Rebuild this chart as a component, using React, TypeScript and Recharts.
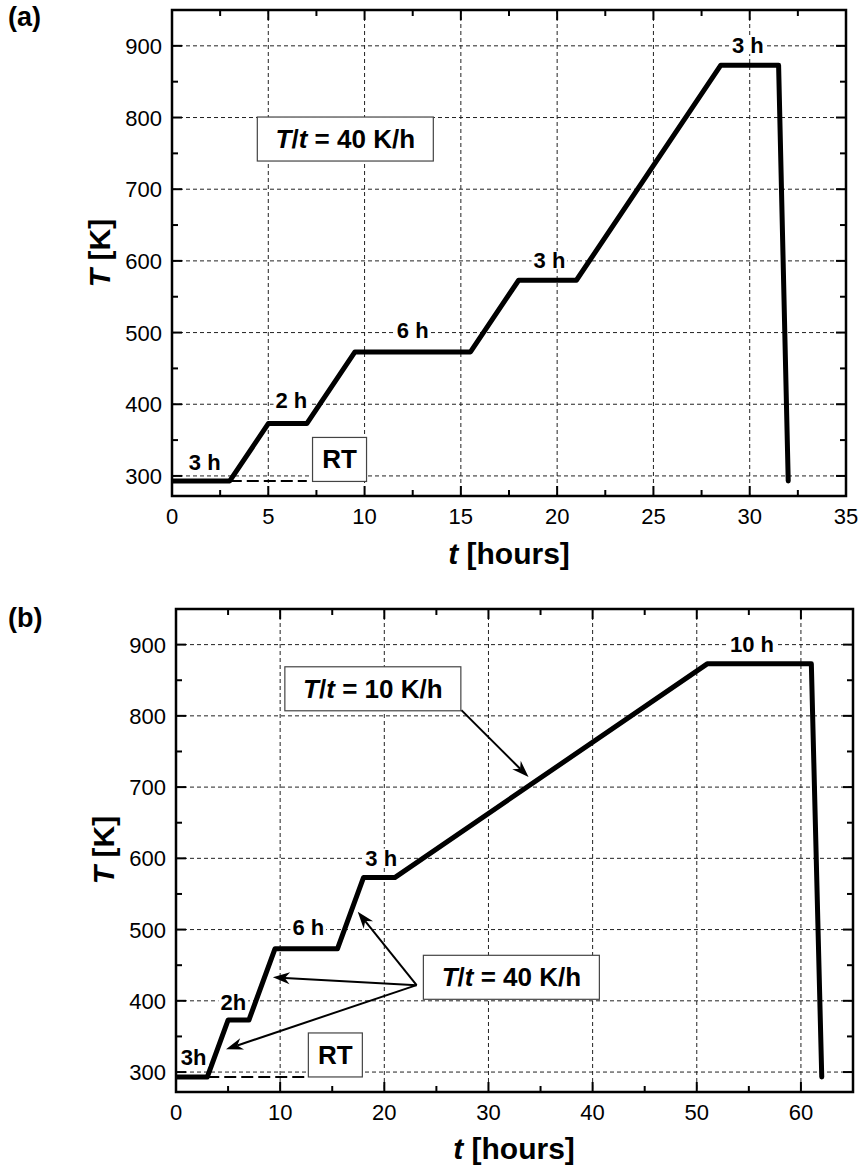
import { LineChart, Line, XAxis, YAxis, CartesianGrid, ReferenceLine, ReferenceDot, ReferenceArea } from 'recharts'

const FONT = '"Liberation Sans", Arial, Helvetica, sans-serif'

// (a) whole schedule at 40 K/h
const hoursA = [0, 3, 5, 7, 9.5, 15.5, 18, 21, 28.5, 31.5, 32]
const tempA = [293, 293, 373, 373, 473, 473, 573, 573, 873, 873, 293]
// (b) last ramp slowed down to 10 K/h
const hoursB = [0, 3, 5, 7, 9.5, 15.5, 18, 21, 51, 61, 62]
const tempB = [293, 293, 373, 373, 473, 473, 573, 573, 873, 873, 293]

const xTicksA = [0, 5, 10, 15, 20, 25, 30, 35]
const xMinorA = [2.5, 7.5, 12.5, 17.5, 22.5, 27.5, 32.5]
const xTicksB = [0, 10, 20, 30, 40, 50, 60]
const xMinorB = [5, 15, 25, 35, 45, 55, 65]
const yTicks = [300, 400, 500, 600, 700, 800, 900]
const yMinor = [350, 450, 550, 650, 750, 850]
const T_MIN = 272
const T_MAX = 950
const RT = 293

// hold-time labels: [hours, K, text]
const holdA: [number, number, string][] = [[1.7, 320, '3 h'], [6.2, 406, '2 h'], [12.5, 504, '6 h'], [19.6, 601, '3 h'], [29.9, 901, '3 h']]
const holdB: [number, number, string][] = [[1.7, 321, '3h'], [5.5, 398, '2h'], [12.7, 503, '6 h'], [19.7, 601, '3 h'], [55.3, 901, '10 h']]

// dashed RT guide [from, to] in hours
const rtLineA = [3, 7]
const rtLineB = [3, 12.75]
const rtBoxA: [number, number] = [8.7, 323]
const rtBoxB: [number, number] = [15.3, 324]

// rate boxes [hours, K, rate]
const rateA: [number, number, string][] = [[9, 770, '40']]
const rateB: [number, number, string][] = [[18.9, 838, '10'], [32.2, 433, '40']]

// arrows [x1, y1, x2, y2]
const arrowsB: [number, number, number, number][] = [
  [27.4, 808, 33.85, 714],
  [23.1, 422, 17.45, 525],
  [23.1, 422, 9.3, 433],
  [23.1, 422, 4.8, 332],
]

const CW: Record<string, number> = { ' ': 0.278, h: 0.611 }
const textW = (s: string, fs: number) => s.split('').reduce((a, c) => a + (CW[c] ?? 0.556), 0) * fs

const X_MARGIN = 12
const Y_MARGIN = 10
const MAJOR = 10
const MINOR = 6

// bottom-axis tick: label for majors + inward marks at bottom and top
const xTick = (majors: number[], plotH: number) => (p: any) => {
  const v = p.payload.value
  const major = majors.includes(v)
  const len = major ? MAJOR : MINOR
  const axisY = p.y - X_MARGIN
  return (
    <g>
      <line x1={p.x} x2={p.x} y1={axisY} y2={axisY - len} stroke="#000" strokeWidth={2} />
      <line x1={p.x} x2={p.x} y1={axisY - plotH} y2={axisY - plotH + len} stroke="#000" strokeWidth={2} />
      {major && (
        <text x={p.x} y={p.y + 16} textAnchor="middle" fontFamily={FONT} fontSize={22} fill="#000">{v}</text>
      )}
    </g>
  )
}

// left-axis tick: label for majors + inward marks at left and right
const yTick = (majors: number[], plotW: number) => (p: any) => {
  const v = p.payload.value
  const major = majors.includes(v)
  const len = major ? MAJOR : MINOR
  const axisX = p.x + Y_MARGIN
  return (
    <g>
      <line x1={axisX} x2={axisX + len} y1={p.y} y2={p.y} stroke="#000" strokeWidth={2} />
      <line x1={axisX + plotW} x2={axisX + plotW - len} y1={p.y} y2={p.y} stroke="#000" strokeWidth={2} />
      {major && (
        <text x={p.x} y={p.y + 8} textAnchor="end" fontFamily={FONT} fontSize={22} fill="#000">{v}</text>
      )}
    </g>
  )
}

const tagShape = (text: string) => (p: any) => {
  const w = textW(text, 22) + 4
  return (
    <g>
      <rect x={p.cx - w / 2} y={p.cy - 9} width={w} height={18} fill="#fff" />
      <text x={p.cx} y={p.cy + 8} textAnchor="middle" fontFamily={FONT} fontWeight="bold" fontSize={22} fill="#000">{text}</text>
    </g>
  )
}

const rateShape = (rate: string) => (p: any) => (
  <g>
    <rect x={p.cx - 88} y={p.cy - 22} width={176} height={44} fill="#fff" stroke="#444" strokeWidth={1.2} />
    <text x={p.cx} y={p.cy + 9} textAnchor="middle" fontFamily={FONT} fontWeight="bold" fontSize={26} fill="#000">
      <tspan fontStyle="italic">T</tspan>/<tspan fontStyle="italic">t</tspan> = {rate} K/h
    </text>
  </g>
)

const rtShape = (p: any) => (
  <g>
    <rect x={p.cx - 27} y={p.cy - 22} width={54} height={44} fill="#fff" stroke="#444" strokeWidth={1.2} />
    <text x={p.cx} y={p.cy + 9} textAnchor="middle" fontFamily={FONT} fontWeight="bold" fontSize={26} fill="#000">RT</text>
  </g>
)

const arrowShape = (p: any) => {
  const { x1, y1, x2, y2 } = p
  const a = Math.atan2(y2 - y1, x2 - x1)
  const L = 17, W = 6
  const c = Math.cos(a), s = Math.sin(a)
  const bx = x2 - L * c, by = y2 - L * s
  const nx = x2 - L * 0.7 * c, ny = y2 - L * 0.7 * s
  return (
    <g>
      <line x1={x1} y1={y1} x2={nx} y2={ny} stroke="#000" strokeWidth={2} />
      <polygon points={`${x2},${y2} ${bx - s * W},${by + c * W} ${nx},${ny} ${bx + s * W},${by - c * W}`} fill="#000" />
    </g>
  )
}

type PanelProps = {
  hours: number[]; temps: number[]; xMax: number; xTicks: number[]; xMinor: number[]
  holds: [number, number, string][]; rtLine: number[]; rtBox: [number, number]
  rates: [number, number, string][]; arrows: [number, number, number, number][]
  width: number; height: number; margin: { top: number; right: number; bottom: number; left: number }
}

const AXIS_H = 30
const AXIS_W = 60

function Panel(props: PanelProps) {
  const { hours, temps, xMax, xTicks, xMinor, holds, rtLine, rtBox, rates, arrows, width, height, margin } = props
  const data = hours.map((t, i) => ({ t, T: temps[i] }))
  const plotW = width - margin.left - margin.right - AXIS_W
  const plotH = height - margin.top - margin.bottom - AXIS_H
  const allX = [...xTicks, ...xMinor].sort((a, b) => a - b)
  const allY = [...yTicks, ...yMinor].sort((a, b) => a - b)
  return (
    <LineChart width={width} height={height} data={data} margin={margin}>
      <CartesianGrid stroke="#222" strokeDasharray="4 3" strokeWidth={1} verticalValues={xTicks} horizontalValues={yTicks} />
      <XAxis dataKey="t" type="number" domain={[0, xMax]} ticks={allX} interval={0} allowDataOverflow
        axisLine={false} tickLine={false} tickSize={0} tickMargin={X_MARGIN} height={AXIS_H} tick={xTick(xTicks, plotH)} />
      <YAxis type="number" domain={[T_MIN, T_MAX]} ticks={allY} interval={0} allowDataOverflow
        axisLine={false} tickLine={false} tickSize={0} tickMargin={Y_MARGIN} width={AXIS_W} tick={yTick(yTicks, plotW)} />
      <ReferenceArea x1={0} x2={xMax} y1={T_MIN} y2={T_MAX} ifOverflow="visible" fill="none" fillOpacity={0} stroke="#000" strokeWidth={2.5} />
      <ReferenceLine segment={[{ x: rtLine[0], y: RT }, { x: rtLine[1], y: RT }]} stroke="#000" strokeWidth={2} strokeDasharray="12 5" />
      <Line type="linear" dataKey="T" stroke="#000" strokeWidth={5} dot={false} activeDot={false}
        strokeLinejoin="round" strokeLinecap="round" isAnimationActive={false} />
      {holds.map(([x, y, s], i) => <ReferenceDot key={'h' + i} x={x} y={y} r={0} shape={tagShape(s)} />)}
      <ReferenceDot x={rtBox[0]} y={rtBox[1]} r={0} shape={rtShape} />
      {rates.map(([x, y, s], i) => <ReferenceDot key={'r' + i} x={x} y={y} r={0} shape={rateShape(s)} />)}
      {arrows.map(([a, b, c, d], i) => (
        <ReferenceLine key={'a' + i} segment={[{ x: a, y: b }, { x: c, y: d }]} stroke="#000" shape={arrowShape} />
      ))}
    </LineChart>
  )
}

export default function App() {
  return (
    <div style={{ position: 'absolute', left: 0, top: 0, width: 860, height: 1166, background: '#fff' }}>
      <div style={{ position: 'absolute', left: 0, top: 0 }}>
        <Panel hours={hoursA} temps={tempA} xMax={35} xTicks={xTicksA} xMinor={xMinorA} holds={holdA}
          rtLine={rtLineA} rtBox={rtBoxA} rates={rateA} arrows={[]}
          width={860} height={580} margin={{ top: 10, right: 14, bottom: 54, left: 112 }} />
      </div>
      <div style={{ position: 'absolute', left: 0, top: 580 }}>
        <Panel hours={hoursB} temps={tempB} xMax={65} xTicks={xTicksB} xMinor={xMinorB} holds={holdB}
          rtLine={rtLineB} rtBox={rtBoxB} rates={rateB} arrows={arrowsB}
          width={860} height={586} margin={{ top: 29, right: 7, bottom: 44, left: 116 }} />
      </div>
      <svg width={860} height={1166} style={{ position: 'absolute', left: 0, top: 0, pointerEvents: 'none' }}>
        <g fontFamily={FONT} fontWeight="bold" fill="#000">
          <text x={8} y={26} fontSize={27}>(a)</text>
          <text x={8} y={627} fontSize={27}>(b)</text>
          <text x={110} y={253} fontSize={30} textAnchor="middle" transform="rotate(-90 110 253)">
            <tspan fontStyle="italic">T</tspan> [K]
          </text>
          <text x={114} y={850} fontSize={30} textAnchor="middle" transform="rotate(-90 114 850)">
            <tspan fontStyle="italic">T</tspan> [K]
          </text>
          <text x={509} y={564} fontSize={30} textAnchor="middle">
            <tspan fontStyle="italic">t</tspan> [hours]
          </text>
          <text x={514} y={1159} fontSize={30} textAnchor="middle">
            <tspan fontStyle="italic">t</tspan> [hours]
          </text>
        </g>
      </svg>
    </div>
  )
}
